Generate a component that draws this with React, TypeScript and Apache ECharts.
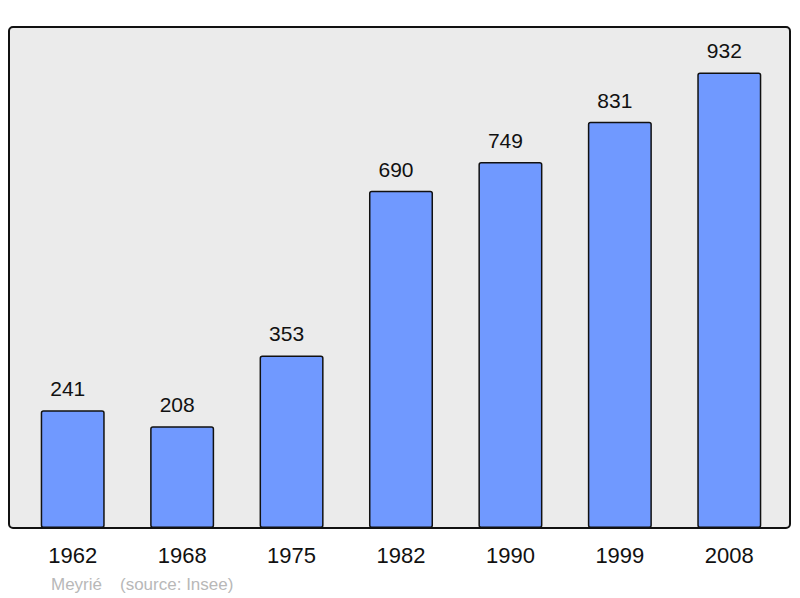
import React, { useEffect, useRef } from "react";
import * as echarts from "echarts";

const years = ["1962", "1968", "1975", "1982", "1990", "1999", "2008"];
const population = [241, 208, 353, 690, 749, 831, 932];
const townName = "Meyrié";
const sourceText = "(source: Insee)";

export default function App() {
  const ref = useRef<HTMLDivElement>(null);
  useEffect(() => {
    if (!ref.current) return;
    const chart = echarts.init(ref.current, undefined, { renderer: "svg" });
    const font = "Liberation Sans, Arial, sans-serif";
    chart.setOption({
      animation: false,
      backgroundColor: "#ffffff",
      textStyle: { fontFamily: font },
      grid: { left: 18, right: 16, top: 27, bottom: 70 },
      xAxis: {
        type: "category",
        data: years,
        axisLine: { show: false },
        axisTick: { show: false },
        axisLabel: { fontSize: 22, color: "#111", margin: 16, fontFamily: font },
      },
      yAxis: {
        type: "value",
        min: 0,
        max: 1025,
        show: false,
        splitLine: { show: false },
      },
      graphic: [
        {
          type: "rect",
          z: -10,
          shape: { x: 9, y: 27, width: 781, height: 501, r: 4 },
          style: { fill: "#ebebeb", stroke: "#111", lineWidth: 2 },
        },
        {
          type: "text",
          left: 51,
          top: 576,
          style: { text: townName, fill: "#b8b8b8", fontSize: 17, fontFamily: font },
        },
        {
          type: "text",
          left: 120,
          top: 576,
          style: { text: sourceText, fill: "#b8b8b8", fontSize: 17, fontFamily: font },
        },
      ],
      series: [
        {
          type: "bar",
          data: population,
          barWidth: "58.5%",
          itemStyle: {
            color: "#7099ff",
            borderColor: "#111",
            borderWidth: 1.5,
            borderRadius: 2,
          },
          label: {
            show: true,
            position: "top",
            distance: 11,
            offset: [-5, 0],
            fontSize: 21,
            color: "#111",
            fontFamily: font,
          },
        },
      ],
    });
    return () => chart.dispose();
  }, []);
  return <div ref={ref} style={{ width: 800, height: 598, position: "absolute", left: 0, top: 0 }} />;
}
